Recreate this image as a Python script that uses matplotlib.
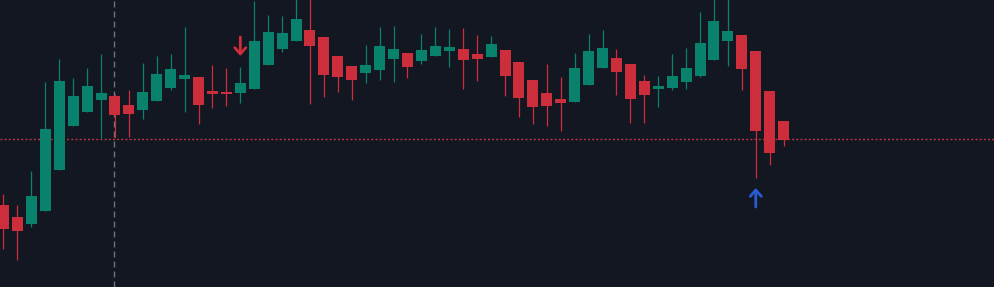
import numpy as np
import matplotlib
matplotlib.use('agg')
import matplotlib.pyplot as plt

# candle data (open, high, low, close)
opens = [2308.75, 2305.75, 2304.0, 2307.25, 2317.5, 2328.5, 2332.0, 2335.0, 2336.0, 2333.75,
         2332.5, 2334.75, 2338.0, 2340.25, 2340.75, 2337.25, 2337.0, 2336.75, 2337.75, 2343.75,
         2347.75, 2349.75, 2352.5, 2350.75, 2346.0, 2343.5, 2341.75, 2342.5, 2345.25, 2346.75,
         2344.75, 2346.0, 2347.25, 2347.75, 2346.5, 2345.75, 2347.5, 2344.5, 2340.0, 2336.75,
         2335.25, 2334.5, 2338.75, 2343.0, 2345.5, 2344.0, 2339.75, 2337.75, 2338.0, 2339.5,
         2341.0, 2345.0, 2349.75, 2351.25, 2347.25, 2337.25, 2329.75]
highs = [2311.5, 2308.75, 2317.25, 2339.5, 2345.25, 2340.5, 2343.0, 2346.5, 2336.5, 2337.5,
         2344.25, 2346.0, 2346.5, 2353.25, 2340.75, 2343.75, 2343.0, 2343.25, 2359.75, 2356.25,
         2356.0, 2361.0, 2360.75, 2350.75, 2346.0, 2343.5, 2348.75, 2353.25, 2353.5, 2346.75,
         2351.5, 2353.25, 2352.75, 2353.0, 2351.25, 2351.0, 2347.5, 2344.5, 2340.0, 2344.0,
         2340.75, 2346.75, 2351.5, 2352.5, 2347.75, 2344.0, 2341.25, 2341.0, 2346.5, 2348.0,
         2357.0, 2361.25, 2360.75, 2351.25, 2347.25, 2337.25, 2329.75]
lows = [2297.75, 2295.0, 2303.25, 2307.25, 2317.5, 2328.5, 2332.0, 2325.5, 2325.5, 2325.75,
        2330.25, 2334.75, 2337.5, 2332.0, 2329.0, 2333.0, 2333.5, 2334.25, 2337.75, 2343.75,
        2347.0, 2349.75, 2334.0, 2335.75, 2337.0, 2335.0, 2339.25, 2340.0, 2339.5, 2340.5,
        2344.0, 2346.0, 2343.25, 2337.75, 2339.75, 2345.75, 2336.0, 2330.75, 2329.0, 2328.5,
        2327.25, 2334.5, 2338.75, 2343.0, 2336.25, 2329.25, 2329.25, 2333.25, 2337.5, 2337.75,
        2340.75, 2345.0, 2343.5, 2337.5, 2315.5, 2318.75, 2323.5]
closes = [2302.75, 2302.25, 2311.0, 2327.75, 2339.75, 2336.0, 2338.5, 2336.75, 2331.25, 2331.5,
          2337.0, 2341.5, 2342.75, 2341.25, 2333.75, 2336.5, 2336.5, 2339.25, 2349.75, 2352.0,
          2351.75, 2355.25, 2348.5, 2341.25, 2340.75, 2340.0, 2343.75, 2348.5, 2347.75, 2343.25,
          2347.5, 2348.5, 2348.25, 2345.0, 2345.25, 2349.0, 2341.0, 2335.5, 2333.25, 2333.5,
          2334.25, 2343.0, 2347.25, 2348.0, 2342.0, 2335.25, 2336.25, 2338.5, 2341.0, 2343.0,
          2349.25, 2354.75, 2352.25, 2342.75, 2327.25, 2321.75, 2325.0]

last_price = 2325.25
crosshair_idx = 8
sell_signal = (17, 2350.75, 2346.0)   # index, arrow tail, arrow tip
buy_signal = (54, 2308.25, 2313.0)

BG = '#131722'
UP = '#08826c'
DOWN = '#cc2e3b'

o = np.array(opens)
h = np.array(highs)
l = np.array(lows)
c = np.array(closes)
x = np.arange(len(o))
up = c >= o
colors = np.where(up, UP, DOWN)

fig = plt.figure(figsize=(9.94, 2.87), dpi=100, facecolor=BG)
ax = fig.add_axes([0, 0, 1, 1])
ax.set_facecolor(BG)

ax.axhline(last_price, color='#c43644', lw=1, linestyle=(0, (1.4, 1.6)), zorder=1)
ax.axvline(crosshair_idx - 0.04, color='#6f737c', lw=1, linestyle=(0, (4.3, 2.9)), zorder=1)

ax.vlines(x, l, h, colors=colors, lw=0.9, zorder=2)
bottoms = np.minimum(o, c)
heights = np.maximum(np.abs(c - o), 0.5)
ax.bar(x, heights, bottom=bottoms, width=0.79, color=colors, linewidth=0, zorder=3)

arrow_style = '->,head_length=0.45,head_width=0.4'
ax.annotate('', xy=(sell_signal[0], sell_signal[2]), xytext=(sell_signal[0], sell_signal[1]),
            arrowprops=dict(arrowstyle=arrow_style, color=DOWN, lw=2, shrinkA=0, shrinkB=0, mutation_scale=10))
ax.annotate('', xy=(buy_signal[0], buy_signal[2]), xytext=(buy_signal[0], buy_signal[1]),
            arrowprops=dict(arrowstyle=arrow_style, color='#2a5bd7', lw=2, shrinkA=0, shrinkB=0, mutation_scale=10))

ax.set_xlim(-0.251, 71.1)
ax.set_ylim(2288.25, 2360)
ax.axis('off')

fig.savefig('out.png', dpi=100, facecolor=BG)
